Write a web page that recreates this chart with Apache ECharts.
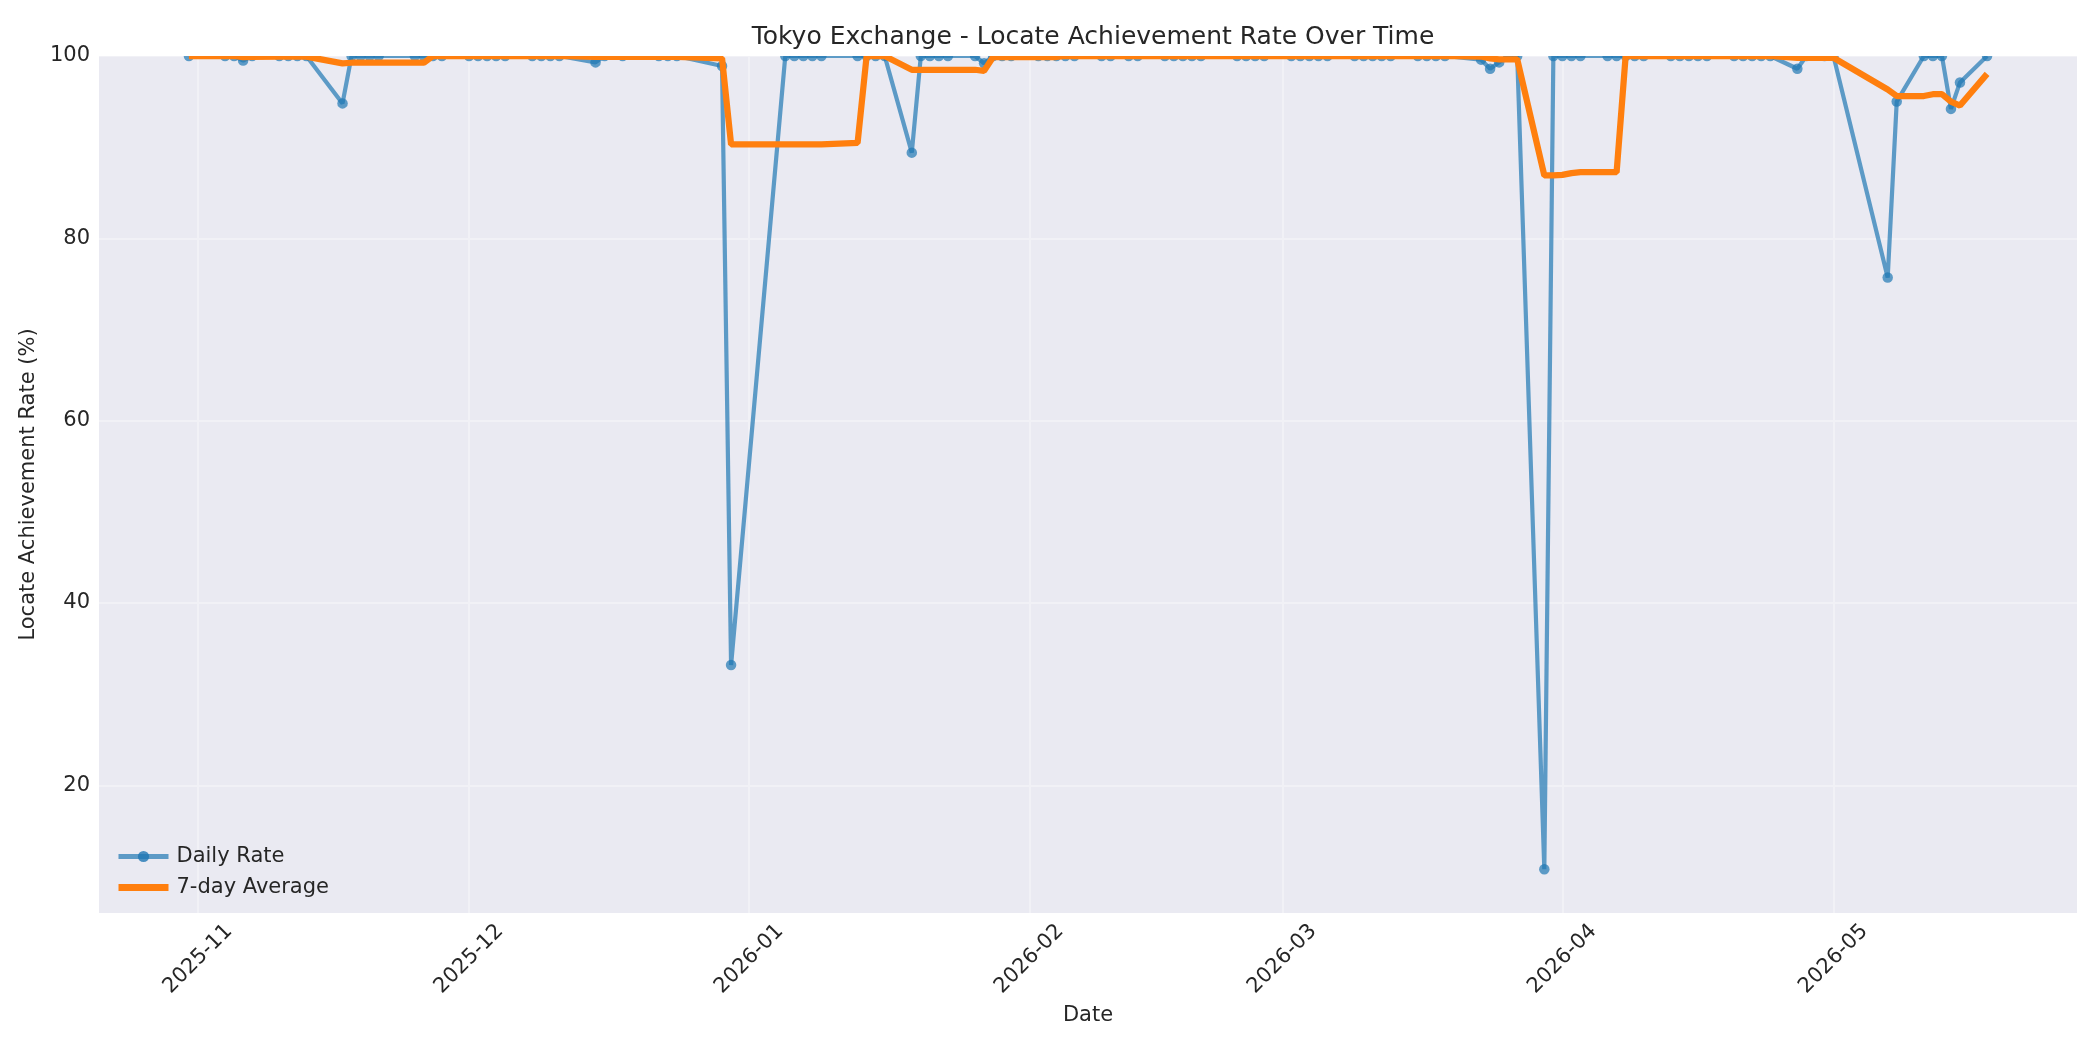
<!DOCTYPE html>
<html><head><meta charset="utf-8">
<script src="https://cdn.jsdelivr.net/npm/echarts@6/dist/echarts.min.js"></script>
<style>html,body{margin:0;padding:0;background:#fff}#c{width:2100px;height:1050px}</style>
</head><body><div id="c"></div>
<script>
// ---- data ----
const dates = [
  '2025-10-31',
  '2025-11-04','2025-11-05','2025-11-06','2025-11-07','2025-11-10','2025-11-11','2025-11-12','2025-11-13','2025-11-17','2025-11-18','2025-11-19','2025-11-20','2025-11-21','2025-11-25','2025-11-26','2025-11-27','2025-11-28',
  '2025-12-01','2025-12-02','2025-12-03','2025-12-04','2025-12-05','2025-12-08','2025-12-09','2025-12-10','2025-12-11','2025-12-15','2025-12-16','2025-12-18','2025-12-22','2025-12-23','2025-12-24','2025-12-29','2025-12-30',
  '2026-01-05','2026-01-06','2026-01-07','2026-01-08','2026-01-09','2026-01-13','2026-01-14','2026-01-15','2026-01-16','2026-01-19','2026-01-20','2026-01-21','2026-01-22','2026-01-23','2026-01-26','2026-01-27','2026-01-28','2026-01-29','2026-01-30',
  '2026-02-02','2026-02-03','2026-02-04','2026-02-05','2026-02-06','2026-02-09','2026-02-10','2026-02-12','2026-02-13','2026-02-16','2026-02-17','2026-02-18','2026-02-19','2026-02-20','2026-02-24','2026-02-25','2026-02-26','2026-02-27',
  '2026-03-02','2026-03-03','2026-03-04','2026-03-05','2026-03-06','2026-03-09','2026-03-10','2026-03-11','2026-03-12','2026-03-13','2026-03-16','2026-03-17','2026-03-18','2026-03-19','2026-03-23','2026-03-24','2026-03-25','2026-03-26','2026-03-27','2026-03-30','2026-03-31',
  '2026-04-01','2026-04-02','2026-04-03','2026-04-06','2026-04-07','2026-04-08','2026-04-09','2026-04-10','2026-04-13','2026-04-14','2026-04-15','2026-04-16','2026-04-17','2026-04-20','2026-04-21','2026-04-22','2026-04-23','2026-04-24','2026-04-27','2026-04-28','2026-04-30',
  '2026-05-01','2026-05-07','2026-05-08','2026-05-11','2026-05-12','2026-05-13','2026-05-14','2026-05-15','2026-05-18'
];
const dailyRate = [
  100,
  100,100,99.5,100,100,100,100,100,94.8,100,100,100,100,100,100,100,100,
  100,100,100,100,100,100,100,100,100,99.3,100,100,100,100,100,98.9,33.2,
  100,100,100,100,100,100,100,100,100,89.4,100,100,100,100,100,99.2,100,100,100,
  100,100,100,100,100,100,100,100,100,100,100,100,100,100,100,100,100,100,
  100,100,100,100,100,100,100,100,100,100,100,100,100,100,99.6,98.6,99.3,100,100,10.8,100,
  100,100,100,100,100,100,100,100,100,100,100,100,100,100,100,100,100,100,98.6,100,100,
  100,75.7,95.0,100,100,100,94.2,97.1,100
];
const avg7 = [
  100,
  100,100,99.88,99.9,99.92,99.93,99.93,99.93,99.19,99.26,99.26,99.26,99.26,99.26,99.26,100,100,
  100,100,100,100,100,100,100,100,100,99.9,99.9,99.9,99.9,99.9,99.9,99.74,90.3,
  90.3,90.3,90.3,90.3,90.3,90.46,100,100,100,98.49,98.49,98.49,98.49,98.49,98.49,98.37,99.89,99.89,99.89,
  99.89,99.89,99.89,100,100,100,100,100,100,100,100,100,100,100,100,100,100,100,
  100,100,100,100,100,100,100,100,100,100,100,100,100,100,99.94,99.74,99.64,99.64,99.64,86.9,86.9,
  86.96,87.16,87.26,87.26,87.26,100,100,100,100,100,100,100,100,100,100,100,100,100,99.8,99.8,99.8,
  99.8,96.33,95.61,95.61,95.81,95.81,94.99,94.57,98.04
];
const monthTicks = ['2025-11-01','2025-12-01','2026-01-01','2026-02-01','2026-03-01','2026-04-01','2026-05-01'];
const yTicks = [20, 40, 60, 80, 100];

// ---- chart ----
const ts = s => new Date(s + 'T00:00:00').getTime();
const xFirst = ts(dates[0]), xLast = ts(dates[dates.length - 1]);
const xPad = (xLast - xFirst) * 0.05;
const FONT = 'DejaVu Sans';
const TXT = '#262626';
const GRIDC = '#F1F1F6';
const BLUE = '#1f77b4', ORANGE = '#ff7f0e';
const fmtMonth = v => { const d = new Date(v); return d.getFullYear() + '-' + String(d.getMonth() + 1).padStart(2, '0'); };

const chart = echarts.init(document.getElementById('c'), null, {renderer: 'canvas'});
chart.setOption({
  animation: false,
  backgroundColor: '#ffffff',
  title: {
    text: 'Tokyo Exchange - Locate Achievement Rate Over Time',
    left: 1088, top: 20, textAlign: 'center', z: 100,
    textStyle: {fontFamily: FONT, fontSize: 25, fontWeight: 'normal', color: TXT}
  },
  grid: {left: 99, right: 23, top: 56, bottom: 137, show: true, backgroundColor: '#EAEAF2', borderWidth: 0},
  legend: {
    orient: 'vertical', left: 110, top: 841, itemWidth: 50, itemHeight: 14, itemGap: 10,
    textStyle: {fontFamily: FONT, fontSize: 21, color: TXT, padding: [0, 0, 0, 3]},
    data: [
      {name: 'Daily Rate', lineStyle: {width: 5, color: BLUE, opacity: 0.7}, itemStyle: {color: BLUE, opacity: 0.8}},
      {name: '7-day Average', lineStyle: {width: 7, color: ORANGE}, itemStyle: {opacity: 0}}
    ]
  },
  xAxis: {
    type: 'value', min: xFirst - xPad, max: xLast + xPad, scale: true,
    name: 'Date', nameLocation: 'middle', nameGap: 92,
    nameTextStyle: {fontFamily: FONT, fontSize: 21, color: TXT},
    axisLine: {show: false},
    axisTick: {show: false, customValues: monthTicks.map(ts)},
    axisLabel: {
      customValues: monthTicks.map(ts), rotate: 45, align: 'center', verticalAlign: 'middle', margin: 46,
      fontFamily: FONT, fontSize: 21, color: TXT, formatter: fmtMonth
    },
    splitLine: {show: true, lineStyle: {color: GRIDC, width: 2}}
  },
  yAxis: {
    type: 'value', min: 6, max: 100,
    name: 'Locate Achievement Rate (%)', nameLocation: 'middle', nameGap: 52,
    nameTextStyle: {fontFamily: FONT, fontSize: 21, color: TXT},
    axisLine: {show: false},
    axisTick: {show: false, customValues: yTicks},
    axisLabel: {customValues: yTicks, margin: 9, fontFamily: FONT, fontSize: 21, color: TXT},
    splitLine: {show: true, lineStyle: {color: GRIDC, width: 2}}
  },
  graphic: [{type: 'rect', z: 50, shape: {x: 99, y: 0, width: 2001, height: 56}, style: {fill: '#ffffff'}}],
  series: [
    {
      name: 'Daily Rate', type: 'line', z: 2,
      data: dates.map((d, i) => [ts(d), dailyRate[i]]),
      symbol: 'circle', symbolSize: 10.5, showAllSymbol: true,
      lineStyle: {width: 4.2, color: BLUE, opacity: 0.7},
      itemStyle: {color: BLUE, opacity: 0.7}
    },
    {
      name: '7-day Average', type: 'line', z: 3,
      data: dates.map((d, i) => [ts(d), avg7[i]]),
      symbol: 'none',
      lineStyle: {width: 6.25, color: ORANGE},
      itemStyle: {color: ORANGE}
    }
  ]
});
</script>
</body></html>
